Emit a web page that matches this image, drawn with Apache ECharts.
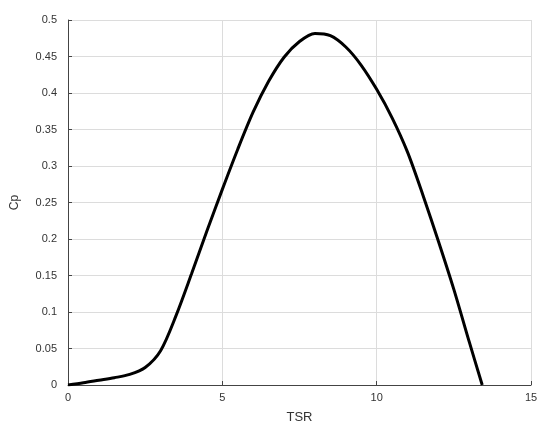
<!DOCTYPE html>
<html>
<head>
<meta charset="utf-8">
<script src="https://cdn.jsdelivr.net/npm/echarts@6/dist/echarts.min.js"></script>
<style>html,body{margin:0;padding:0;background:#fff}#c{width:550px;height:430px}</style>
</head>
<body>
<div id="c"></div>
<script>
const tsr = [0, 0.5, 1.0, 1.5, 2.0, 2.5, 3.0, 3.5, 4.0, 4.5, 5.0, 5.5, 6.0, 6.5, 7.0, 7.5, 8.0, 8.5, 9.0, 9.5, 10.0, 10.5, 11.0, 11.5, 12.0, 12.5, 13.0, 13.42];
const cp = [0, 0.003, 0.0065, 0.010, 0.0145, 0.024, 0.047, 0.095, 0.152, 0.211, 0.268, 0.323, 0.374, 0.416, 0.449, 0.4705, 0.4815, 0.4785, 0.463, 0.438, 0.405, 0.366, 0.319, 0.260, 0.197, 0.131, 0.059, 0];
const xName = 'TSR';
const yName = 'Cp';

const chart = echarts.init(document.getElementById('c'), null, {renderer: 'canvas'});
const font = 'Liberation Sans, Arial, sans-serif';
chart.setOption({
  animation: false,
  grid: {left: 68, right: 19, top: 20, bottom: 45},
  xAxis: {
    type: 'value', min: 0, max: 15, interval: 5,
    name: xName, nameLocation: 'middle', nameGap: 26,
    nameTextStyle: {fontFamily: font, fontSize: 13, color: '#333'},
    axisLine: {onZero: false, lineStyle: {color: '#444', width: 1}},
    axisTick: {inside: true, length: 4, lineStyle: {color: '#444'}},
    axisLabel: {fontFamily: font, fontSize: 11, color: '#333', margin: 7},
    splitLine: {lineStyle: {color: '#dcdcdc', width: 1}}
  },
  yAxis: {
    type: 'value', min: 0, max: 0.5, interval: 0.05,
    name: yName, nameLocation: 'middle', nameGap: 47,
    nameTextStyle: {fontFamily: font, fontSize: 12, color: '#333'},
    axisLine: {show: true, onZero: false, lineStyle: {color: '#444', width: 1}},
    axisTick: {show: true, inside: true, length: 4, lineStyle: {color: '#444'}},
    axisLabel: {fontFamily: font, fontSize: 11, color: '#333', margin: 11,
      formatter: v => String(Math.round(v * 100) / 100)},
    splitLine: {lineStyle: {color: '#dcdcdc', width: 1}}
  },
  series: [{
    type: 'line',
    data: tsr.map((x, i) => [x, cp[i]]),
    smooth: 0.3,
    showSymbol: false,
    lineStyle: {color: '#000', width: 3}
  }]
});
</script>
</body>
</html>
